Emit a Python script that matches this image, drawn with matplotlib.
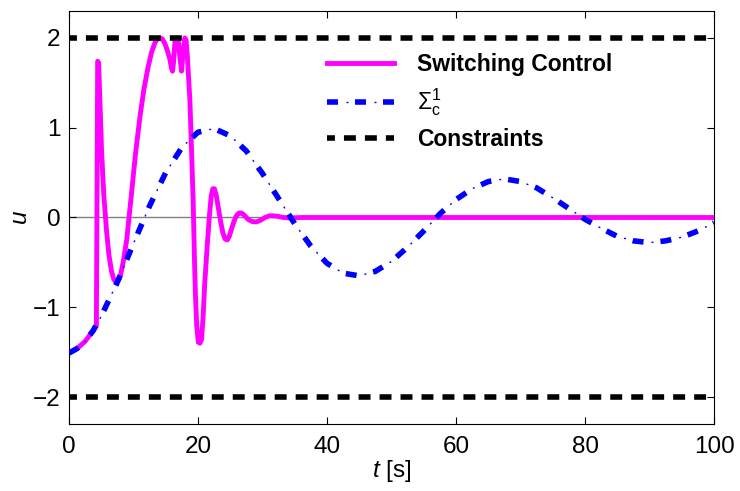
import matplotlib
matplotlib.use("Agg")
import matplotlib.pyplot as plt

plt.rcParams["font.family"] = ["Liberation Sans", "DejaVu Sans"]
plt.rcParams["mathtext.fontset"] = "custom"
plt.rcParams["mathtext.rm"] = "Liberation Sans"
plt.rcParams["mathtext.it"] = "Liberation Sans:italic"
plt.rcParams["lines.scale_dashes"] = False

# Sigma_c^1 controller response
t_sigma = [0, 1.25, 2.5, 3.75, 5, 7.5, 10, 12.5, 15, 17.5, 20, 22.5, 25, 27.5, 30, 32.5,
           35, 37.5, 40, 42.5, 45, 47.5, 50, 52.5, 55, 57.5, 60, 62.5, 65, 67.5, 70,
           72.5, 75, 77.5, 80, 82.5, 85, 87.5, 90, 92.5, 95, 97.5, 100]
u_sigma = [-1.51, -1.46, -1.38, -1.26, -1.10, -0.72, -0.29, 0.13, 0.50, 0.78, 0.95, 0.99,
           0.91, 0.74, 0.49, 0.21, -0.07, -0.32, -0.51, -0.62, -0.65, -0.60, -0.49,
           -0.33, -0.15, 0.04, 0.20, 0.32, 0.40, 0.43, 0.40, 0.33, 0.22, 0.10, -0.02,
           -0.12, -0.21, -0.26, -0.28, -0.26, -0.22, -0.15, -0.06]

# switching control response
t_sw = [0, 1.25, 2.5, 3.75, 4.05, 4.25, 4.45, 4.6, 4.8, 5.05, 5.4, 5.85, 6.2, 6.6, 6.95,
        7.3, 7.65, 8.0, 8.4, 8.95, 9.7, 10.3, 11.0, 11.6, 12.25, 12.8, 13.35, 13.7,
        14.05, 14.45, 14.85, 15.25, 15.65, 15.9, 16.05, 16.2, 16.45, 16.7, 16.95, 17.2,
        17.45, 17.7, 17.95, 18.15, 18.35, 18.55, 18.75, 19.0, 19.25, 19.45, 19.6, 19.8,
        20.05, 20.3, 20.55, 20.8, 21.05, 21.4, 21.75, 22.05, 22.3, 22.55, 22.85, 23.15,
        23.5, 23.85, 24.2, 24.55, 24.85, 25.15, 25.55, 25.95, 26.35, 26.75, 27.25,
        27.75, 28.4, 29.05, 29.7, 30.4, 31.15, 32.2, 33.2, 34.25, 36, 100]
u_sw = [-1.51, -1.46, -1.38, -1.26, -1.22, -1.21, 1.74, 1.72, 1.30, 0.75, 0.25, -0.17,
        -0.42, -0.60, -0.69, -0.72, -0.70, -0.64, -0.50, -0.25, 0.27, 0.70, 1.12, 1.42,
        1.67, 1.84, 1.95, 1.99, 2.0, 1.99, 1.94, 1.86, 1.76, 1.66, 1.63, 1.72, 1.98,
        2.0, 1.96, 1.78, 1.63, 1.85, 2.0, 1.98, 1.80, 1.55, 1.30, 0.75, 0.19, -0.45,
        -0.85, -1.20, -1.39, -1.40, -1.36, -1.10, -0.73, -0.35, 0.0, 0.24, 0.32, 0.32,
        0.24, 0.11, -0.04, -0.17, -0.24, -0.25, -0.21, -0.14, -0.05, 0.02, 0.05, 0.05,
        0.02, -0.02, -0.045, -0.05, -0.03, 0.0, 0.02, 0.015, 0.0, -0.005, 0.0, 0.0]

u_max = 2
u_min = -2
t_end = 100

fig = plt.figure(figsize=(7.4, 4.91), dpi=100)
ax = fig.add_axes([0.0932, 0.1365, 0.8717, 0.8411])

ax.plot([0, t_end], [0, 0], color="gray", lw=1.0, zorder=1)

h_sw, = ax.plot(t_sw, u_sw, color="#ff00ff", lw=3.5, zorder=2)

# dash-dot drawn as thick dashes plus thin dots
h_s1, = ax.plot(t_sigma, u_sigma, color="#0000ff", lw=4,
                linestyle=(0, (7.9, 12.26)), zorder=3)
h_s2, = ax.plot(t_sigma, u_sigma, color="#0000ff", lw=1,
                linestyle=(6.48, (1.44, 18.72)), zorder=3)

h_c, = ax.plot([0, t_end], [u_max, u_max], color="black", lw=4,
               linestyle=(2.9, (8.6, 6.5)), zorder=4)
ax.plot([0, t_end], [u_min, u_min], color="black", lw=4,
        linestyle=(2.9, (8.6, 6.5)), zorder=4)

ax.set_xlim(0, 100)
ax.set_ylim(-2.3, 2.3)
ax.set_xticks([0, 20, 40, 60, 80, 100])
ax.set_yticks([-2, -1, 0, 1, 2])
ax.set_yticklabels(["\u22122", "\u22121", "0", "1", "2"])
ax.tick_params(direction="in", length=5, width=0.8, top=True, right=True,
               labelsize=17.5)
ax.tick_params(axis="x", pad=9)
ax.tick_params(axis="y", pad=6)
for s in ax.spines.values():
    s.set_linewidth(0.8)

ax.set_xlabel("$t$ [s]", fontsize=17.5, labelpad=0)
ax.set_ylabel("$u$", fontsize=17.5, labelpad=1)

leg = ax.legend([h_sw, (h_s1, h_s2), h_c],
                ["Switching Control", r"$\Sigma_{\mathrm{c}}^{1}$", "Constraints"],
                loc="upper left", bbox_to_anchor=(0.40, 0.898), frameon=False,
                borderpad=0, borderaxespad=0, handlelength=2.93, handletextpad=1.0,
                labelspacing=0.45, fontsize=16.5)
for txt in leg.get_texts():
    if txt.get_text() != r"$\Sigma_{\mathrm{c}}^{1}$":
        txt.set_fontweight("bold")

fig.savefig("out.png", dpi=100)
